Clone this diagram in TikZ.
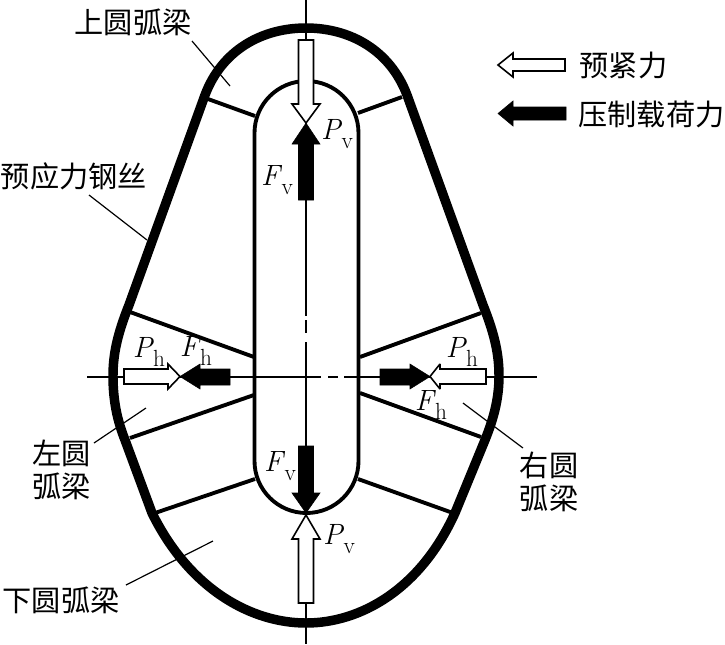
\documentclass[tikz,border=0pt]{standalone}
\usepackage{fontspec}
\newfontfamily\cjk{Noto Sans CJK SC}
\newcommand{\forcesym}[2]{\textit{#1}\kern-0.5pt\raisebox{-6.5pt}{\fontsize{17.5}{18}\selectfont #2}}
\tikzset{
  wire/.style={line width=7.1pt, line join=round},
  beam/.style={line width=2.9pt},
  axis/.style={line width=1.1pt},
  leader/.style={line width=0.9pt},
  openarrow/.style={draw=black, fill=white, line width=1.2pt, miter limit=3},
  solidarrow/.style={draw=black, fill=black, line width=0.4pt},
  cjklabel/.style={font=\cjk\fontsize{21.9}{24.7}\selectfont, inner sep=0pt, align=center},
  forcelabel/.style={font=\fontsize{22}{24}\selectfont, inner sep=0pt}
}
\begin{document}
\begin{tikzpicture}[x=0.75pt, y=-0.75pt]
  \useasboundingbox (0,0) rectangle (725,644);

  % Axes
  \draw[axis] (306,0) -- (306,316) (306,320) -- (306,333) (306,342) -- (306,644);
  \draw[axis] (87,377) -- (321,377) (328,377) -- (338,377) (344,377) -- (537,377);

  % Slot
  \draw[beam] (254.5,133) arc[start angle=180, end angle=360, radius=52] -- (358.5,461)
    arc[start angle=0, end angle=180, radius=52] -- cycle;

  % Beam joints
  \draw[beam] (208,99) -- (255,116);
  \draw[beam] (358,113) -- (402,97);
  \draw[beam] (130,312) -- (254,357);
  \draw[beam] (130,438) -- (254,395);
  \draw[beam] (360,357) -- (481,313);
  \draw[beam] (360,393) -- (481,437);
  \draw[beam] (155,513) -- (255,479);
  \draw[beam] (358,479) -- (453,513);

  % Wire
  \draw[wire] (129,305) -- (205,95) .. controls (222,50) and (262,28) .. (306,28)
    .. controls (350,28) and (390,50) .. (407,95) -- (483,305)
    .. controls (495,335) and (499,355) .. (499,376)
    .. controls (499,400) and (493,420) .. (485,440) -- (455,513)
    .. controls (420,590) and (360,623) .. (306,623)
    .. controls (252,623) and (190,590) .. (152,513) -- (125,440)
    .. controls (117,420) and (113,400) .. (113,376)
    .. controls (113,355) and (117,335) .. cycle;

  % Preload arrows
  \draw[openarrow] (306,123) -- (292,104) -- (298.5,104) -- (298.5,40) -- (313.5,40) -- (313.5,104) -- (320,104) -- cycle;
  \draw[openarrow] (306,515) -- (292,539) -- (298.5,539) -- (298.5,603) -- (313.5,603) -- (313.5,539) -- (320,539) -- cycle;
  \draw[openarrow] (180,376.5) -- (168,364) -- (168,369) -- (124,369) -- (124,384) -- (168,384) -- (168,389) -- cycle;
  \draw[openarrow] (430,376.5) -- (440,364) -- (440,369) -- (486,369) -- (486,384) -- (440,384) -- (440,389) -- cycle;

  % Load arrows
  \draw[solidarrow] (306,123) -- (292,144) -- (298.5,144) -- (298.5,200) -- (313.5,200) -- (313.5,144) -- (320,144) -- cycle;
  \draw[solidarrow] (306,513) -- (292,493) -- (298.5,493) -- (298.5,446) -- (313.5,446) -- (313.5,493) -- (320,493) -- cycle;
  \draw[solidarrow] (180,376.5) -- (200,364) -- (200,369) -- (230,369) -- (230,385) -- (200,385) -- (200,389) -- cycle;
  \draw[solidarrow] (430,376.5) -- (410,364) -- (410,369) -- (380,369) -- (380,385) -- (410,385) -- (410,389) -- cycle;

  % Legend
  \draw[openarrow] (498,65) -- (513,53) -- (513,59) -- (565,59) -- (565,71) -- (513,71) -- (513,77) -- cycle;
  \draw[solidarrow] (498,113.5) -- (513,101) -- (513,107) -- (566,107) -- (566,120) -- (513,120) -- (513,126) -- cycle;
  \node[cjklabel] (preload) at (623.5,65) {预紧力};
  \node[cjklabel] (pressload) at (651.5,114) {压制载荷力};

  % Labels
  \node[cjklabel] (upperbeam) at (133,22) {上圆弧梁};
  \node[cjklabel] (steelwire) at (74,176) {预应力钢丝};
  \node[cjklabel] (leftbeam) at (62,470) {左圆\\弧梁};
  \node[cjklabel] (rightbeam) at (549,482) {右圆\\弧梁};
  \node[cjklabel] (lowerbeam) at (61,600) {下圆弧梁};

  % Leaders
  \draw[leader] (192,41) -- (230,86);
  \draw[leader] (89,195) -- (147,240);
  \draw[leader] (94,443) -- (146,408);
  \draw[leader] (463,403) -- (523,448);
  \draw[leader] (126,585) -- (213,541);

  % Forces
  \node[forcelabel] (ph1) at (149,352) {\forcesym{P}{h}};
  \node[forcelabel] (fh1) at (196,351) {\forcesym{F}{h}};
  \node[forcelabel] (ph2) at (462,352) {\forcesym{P}{h}};
  \node[forcelabel] (fh2) at (431,405) {\forcesym{F}{h}};
  \node[forcelabel] (fv1) at (277,180) {\forcesym{F}{v}};
  \node[forcelabel] (pv1) at (337,134) {\forcesym{P}{v}};
  \node[forcelabel] (fv2) at (280,466) {\forcesym{F}{v}};
  \node[forcelabel] (pv2) at (339,539) {\forcesym{P}{v}};
\end{tikzpicture}
\end{document}
